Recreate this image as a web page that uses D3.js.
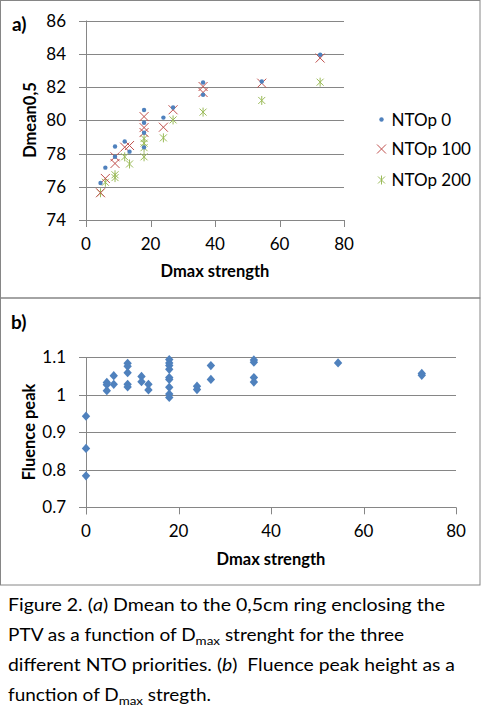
<!DOCTYPE html>
<html>
<head>
<meta charset="utf-8">
<script src="https://cdn.jsdelivr.net/npm/d3@7"></script>
<style>
  body { margin: 0; background: #fff; }
  svg text { font-family: Lato, "Open Sans", sans-serif; fill: #000; }
</style>
</head>
<body>
<svg id="fig" width="482" height="725"></svg>
<script>

// panel a) Dmean0,5 vs Dmax strength, three NTO priorities
var ntop0X   = [4.5, 6, 9, 9, 12, 13.5, 18, 18, 18, 18, 24, 27, 36.3, 36.3, 54.5, 72.6]
var ntop0Y   = [76.23, 77.15, 78.42, 77.8, 78.72, 78.11, 80.62, 79.85, 79.25, 78.37, 80.16, 80.77, 82.27, 81.53, 82.33, 83.94]
var ntop100X = [4.5, 6, 9, 9, 12, 13.5, 18, 18, 18, 24, 27, 36.3, 36.3, 54.5, 72.6]
var ntop100Y = [75.64, 76.5, 77.8, 77.4, 78.38, 78.48, 80.22, 79.56, 79.26, 79.58, 80.63, 82.03, 81.67, 82.23, 83.74]
var ntop200X = [4.5, 6, 9, 9, 12, 13.5, 18, 18, 18, 18, 24, 27, 36.3, 54.5, 72.6]
var ntop200Y = [75.64, 76.27, 76.72, 76.55, 77.8, 77.37, 78.9, 78.62, 78.35, 77.8, 78.94, 80.02, 80.49, 81.19, 82.29]
var seriesNames = ['NTOp 0', 'NTOp 100', 'NTOp 200']
var ticksA_x = [0, 20, 40, 60, 80]
var ticksA_y = [74, 76, 78, 80, 82, 84, 86]

// panel b) fluence peak vs Dmax strength
var fluenceX = [0, 0, 0, 4.5, 4.5, 4.5, 6, 6, 9, 9, 9, 9, 9, 12, 12, 13.5, 13.5,
                18, 18, 18, 18, 18, 18, 18, 18, 18, 24, 24, 27, 27, 36.3, 36.3, 36.3, 36.3, 54.5, 72.6, 72.6]
var fluenceY = [0.943, 0.857, 0.784, 1.033, 1.027, 1.011, 1.051, 1.028, 1.084, 1.076, 1.059, 1.028, 1.021, 1.049, 1.035, 1.028, 1.013,
                1.094, 1.085, 1.078, 1.068, 1.046, 1.041, 1.020, 1.002, 0.993, 1.023, 1.014, 1.078, 1.041, 1.093, 1.087, 1.046, 1.034, 1.085, 1.057, 1.052]
var ticksB_x = [0, 20, 40, 60, 80]
var ticksB_y = [0.7, 0.8, 0.9, 1.0, 1.1]

var gridColor = '#868686'
var colors = ['#4f81bd', '#c0504d', '#9bbb59']

var svg = d3.select('#fig')

// panel frames
svg.append('rect').attr('x', 0.5).attr('y', 0.5).attr('width', 479.5).attr('height', 297.5)
    .attr('fill', 'none').attr('stroke', gridColor)
svg.append('rect').attr('x', 0.5).attr('y', 298).attr('width', 479.5).attr('height', 287)
    .attr('fill', 'none').attr('stroke', gridColor)

function drawFrame(x, y, xticks, yticks, fmtY){
    var x0 = x.range()[0], x1 = x.range()[1]
    var y0 = y.range()[0]
    var g = svg.append('g')
    // horizontal gridlines, with tick stub left of the axis
    g.selectAll('line.grid').data(yticks).enter().append('line')
        .attr('x1', x0 - 7).attr('x2', x1)
        .attr('y1', function(d){ return Math.round(y(d)) + 0.5 })
        .attr('y2', function(d){ return Math.round(y(d)) + 0.5 })
        .attr('stroke', gridColor).attr('stroke-width', 1)
    // vertical axis
    g.append('line').attr('x1', Math.round(x0) + 0.5).attr('x2', Math.round(x0) + 0.5)
        .attr('y1', y.range()[1]).attr('y2', y0 + 7)
        .attr('stroke', gridColor)
    // x ticks
    g.selectAll('line.xt').data(xticks).enter().append('line')
        .attr('x1', function(d){ return Math.round(x(d)) + 0.5 })
        .attr('x2', function(d){ return Math.round(x(d)) + 0.5 })
        .attr('y1', y0).attr('y2', y0 + 7)
        .attr('stroke', gridColor)
    g.selectAll('text.yl').data(yticks).enter().append('text')
        .attr('x', x0 - 20).attr('y', function(d){ return y(d) })
        .attr('dy', '0.36em').attr('text-anchor', 'end')
        .style('font-size', '17px')
        .text(fmtY)
    g.selectAll('text.xl').data(xticks).enter().append('text')
        .attr('x', function(d){ return x(d) }).attr('y', y0 + 29.5)
        .attr('text-anchor', 'middle')
        .style('font-size', '17px')
        .text(function(d){ return d })
}

function marker(sel, kind, color){
    if (kind === 0){
        sel.append('circle').attr('r', 2.2).attr('fill', color)
    } else if (kind === 1){
        sel.append('path').attr('d', 'M-4.5,-4.5L4.5,4.5M-4.5,4.5L4.5,-4.5')
            .attr('stroke', color).attr('stroke-width', 1).attr('fill', 'none')
    } else {
        sel.append('path').attr('d', 'M-3.5,-3.5L3.5,3.5M-3.5,3.5L3.5,-3.5M0,-4.5L0,4.5')
            .attr('stroke', color).attr('stroke-width', 1).attr('fill', 'none')
    }
}

// ---- panel a
var xa = d3.scaleLinear().domain([0, 80]).range([86, 344])
var ya = d3.scaleLinear().domain([74, 86]).range([220, 20.5])
drawFrame(xa, ya, ticksA_x, ticksA_y, function(d){ return d })

var seriesA = [[ntop0X, ntop0Y], [ntop100X, ntop100Y], [ntop200X, ntop200Y]]
// draw in reverse so blue dots sit on top
for (var s = seriesA.length - 1; s >= 0; s--){
    var pts = d3.zip(seriesA[s][0], seriesA[s][1])
    var sel = svg.append('g').selectAll('g').data(pts).enter().append('g')
        .attr('transform', function(d){ return 'translate(' + xa(d[0]) + ',' + ya(d[1]) + ')' })
    marker(sel, s, colors[s])
}

var legend = svg.append('g').selectAll('g').data(seriesNames).enter().append('g')
    .attr('transform', function(d, i){ return 'translate(381.5,' + [119.5, 149, 180][i] + ')' })
legend.each(function(d, i){ marker(d3.select(this), i, colors[i]) })
legend.append('text').attr('x', 10).attr('dy', '0.36em')
    .style('font-size', '17px').text(function(d){ return d })

svg.append('text').attr('x', 215).attr('y', 276.5).attr('text-anchor', 'middle')
    .style('font-size', '16.5px').style('font-weight', 'bold').text('Dmax strength')
svg.append('text').attr('transform', 'translate(35.5,120) rotate(-90)').attr('text-anchor', 'middle')
    .style('font-size', '16.5px').style('font-weight', 'bold').text('Dmean0,5')
svg.append('text').attr('x', 12).attr('y', 31).style('font-size', '19px').style('font-weight', 'bold').text('a)')

// ---- panel b
var xb = d3.scaleLinear().domain([0, 80]).range([86, 456])
var yb = d3.scaleLinear().domain([0.7, 1.1]).range([507.3, 357.3])
drawFrame(xb, yb, ticksB_x, ticksB_y, function(d){ return d === 1 ? '1' : d3.format('.1f')(d) })

svg.append('g').selectAll('path').data(d3.zip(fluenceX, fluenceY)).enter().append('path')
    .attr('d', 'M0,-4.6L4.2,0L0,4.6L-4.2,0Z')
    .attr('fill', colors[0])
    .attr('transform', function(d){ return 'translate(' + xb(d[0]) + ',' + yb(d[1]) + ')' })

svg.append('text').attr('x', 271).attr('y', 564.5).attr('text-anchor', 'middle')
    .style('font-size', '16.5px').style('font-weight', 'bold').text('Dmax strength')
svg.append('text').attr('transform', 'translate(35,432) rotate(-90)').attr('text-anchor', 'middle')
    .style('font-size', '16.5px').style('font-weight', 'bold').text('Fluence peak')
svg.append('text').attr('x', 11).attr('y', 329).style('font-size', '19px').style('font-weight', 'bold').text('b)')

// ---- caption
var cap = svg.append('g').style('font-size', '17px')
function capLine(y, parts, len){
    var t = cap.append('text').attr('x', 8).attr('y', y).style('white-space', 'pre')
        .attr('textLength', len).attr('lengthAdjust', 'spacingAndGlyphs')
    parts.forEach(function(p){
        var ts = t.append('tspan').text(p.t)
        if (p.i) ts.style('font-style', 'italic')
        if (p.sub) ts.style('font-size', '12px').attr('dy', 4)
        if (p.up) ts.attr('dy', -4)
    })
}
capLine(610.5, [{t: 'Figure 2. ('}, {t: 'a', i: true}, {t: ') Dmean to the 0,5cm ring enclosing the'}], 437)
capLine(640.5, [{t: 'PTV as a function of D'}, {t: 'max', sub: true}, {t: ' strenght for the three', up: true}], 396)
capLine(670.5, [{t: 'different NTO priorities. ('}, {t: 'b', i: true}, {t: ')  Fluence peak height as a'}], 447)
capLine(700.5, [{t: 'function of D'}, {t: 'max', sub: true}, {t: ' stregth.', up: true}], 203)

</script>
</body>
</html>
